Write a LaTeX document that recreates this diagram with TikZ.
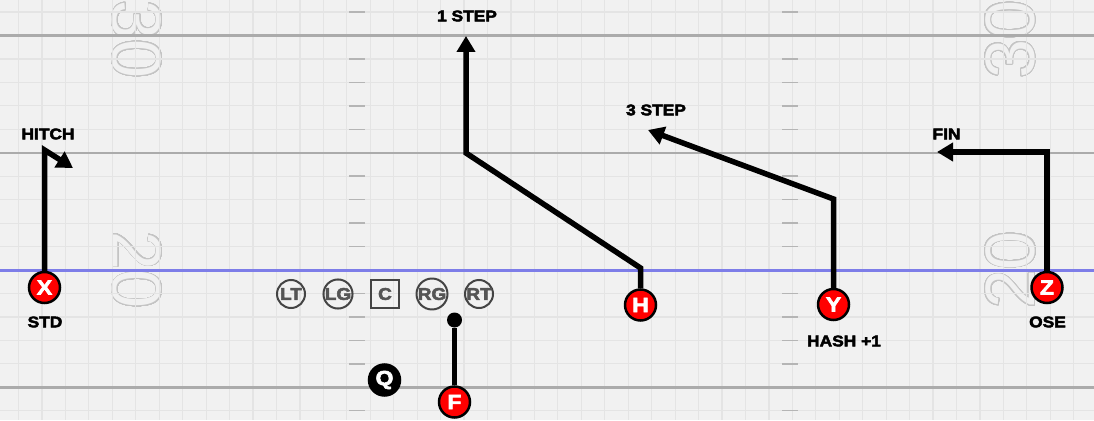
\documentclass[tikz,border=0pt]{standalone}
\usepackage{fontspec}
\usepackage{contour}
\usetikzlibrary{arrows.meta}
\setmainfont{Liberation Sans}
\newfontfamily\heavy{Liberation Sans}[BoldFeatures={FakeBold=3,FakeStretch=1.12}]
\newfontfamily\numfont{Liberation Sans}
\contournumber{48}
\contourlength{0.8pt}

\definecolor{turf}{HTML}{F1F1F1}
\definecolor{gridc}{HTML}{E4E4E4}
\definecolor{yardc}{HTML}{ABABAB}
\definecolor{hashc}{HTML}{B5B5B5}
\definecolor{losc}{HTML}{7D7DE8}
\definecolor{numc}{HTML}{C4C4C4}
\definecolor{olc}{HTML}{444444}
\definecolor{oltext}{HTML}{555555}
\definecolor{playred}{HTML}{FF0000}

\tikzset{
  gridline/.style={draw=gridc, line width=1.2pt},
  yardline/.style={draw=yardc, line width=2.5pt},
  hashmark/.style={draw=hashc, line width=1.5pt},
  scrimmage/.style={draw=losc, line width=3pt},
  yardnum/.style={font=\numfont\fontsize{70}{70}\selectfont, text=turf, inner sep=0pt},
  player/.style={circle, draw=black, line width=2.5pt, fill=playred, minimum size=31pt,
    inner sep=0pt, text=white, font=\heavy\bfseries\fontsize{20.5}{20.5}\selectfont},
  passer/.style={player, fill=black},
  lineman/.style={circle, draw=olc, line width=2pt, minimum size=28pt, inner sep=0pt,
    text=oltext, font=\heavy\bfseries\fontsize{17}{17}\selectfont},
  snapper/.style={lineman, rectangle},
  route/.style={draw=black, line width=5.5pt},
  arrowroute/.style={route, -{Triangle[length=16pt,width=18pt]}},
  blockdot/.style={circle, fill=black, minimum size=15pt, inner sep=0pt},
  routelabel/.style={font=\heavy\bfseries\fontsize{15.5}{15.5}\selectfont, inner sep=0pt}
}

\begin{document}
\begin{tikzpicture}[x=1pt, y=-1pt]
  \useasboundingbox (0,0) rectangle (1094,420);
  \clip (0,0) rectangle (1094,420);
  \fill[turf] (0,0) rectangle (1094,420);

  % yard numbers
  \node[yardnum, rotate=-90] (num30l) at (136.5,39.5) {\contour{numc}{30}};
  \node[yardnum, rotate=-90] (num20l) at (136.5,270) {\contour{numc}{20}};
  \node[yardnum, rotate=90] (num30r) at (1010.5,39.5) {\contour{numc}{30}};
  \node[yardnum, rotate=90] (num20r) at (1011,270) {\contour{numc}{20}};

  % one-yard grid
  \foreach \i in {0,...,45}
    \draw[gridline] ({18.5+23.45*\i},0) -- ++(0,420);
  \foreach \k in {-6,...,11}
    \draw[gridline] (0,{270-23.45*\k}) -- ++(1094,0);

  % five-yard lines
  \foreach \k in {10,5,-5}
    \draw[yardline] (0,{270-23.45*\k}) -- ++(1094,0);

  % hash marks
  \foreach \k in {11,9,8,7,6,4,3,2,1,-1,-2,-3,-4,-6} {
    \draw[hashmark] (349,{270-23.45*\k}) -- ++(16,0);
    \draw[hashmark] (782,{270-23.45*\k}) -- ++(16,0);
  }

  % line of scrimmage
  \draw[scrimmage] (0,270) -- (1094,270);

  % offensive line
  \node[lineman] (LT) at (291,294) {LT};
  \node[lineman] (LG) at (338,294) {LG};
  \node[snapper] (C) at (385,294) {C};
  \node[lineman] (RG) at (432,294) {RG};
  \node[lineman] (RT) at (479,294) {RT};

  % skill players
  \node[player] (X) at (44.5,287.5) {X};
  \node[player] (H) at (640.5,305) {H};
  \node[player] (Y) at (833.5,304.5) {Y};
  \node[player] (Z) at (1047,287.5) {Z};
  \node[player] (F) at (454.5,402) {F};
  \node[passer] (Q) at (384.5,380) {Q};
  \node[blockdot] (Fblock) at (454.5,320) {};

  % route waypoints
  \coordinate (xb) at (44.5,150);
  \coordinate (xe) at (73,168);
  \coordinate (hb1) at (640.5,268);
  \coordinate (hb2) at (466,153);
  \coordinate (he) at (466,36);
  \coordinate (yb) at (833.5,199);
  \coordinate (ye) at (648,130);
  \coordinate (zb) at (1047,152);
  \coordinate (ze) at (937,152);

  % routes
  \draw[arrowroute] (X) -- (xb) -- (xe);
  \draw[arrowroute] (H) -- (hb1) -- (hb2) -- (he);
  \draw[arrowroute] (Y) -- (yb) -- (ye);
  \draw[arrowroute] (Z) -- (zb) -- (ze);
  \draw[route] (F) -- (Fblock);

  % labels
  \node[routelabel] (lhitch) at (48,134) {HITCH};
  \node[routelabel] (lstd) at (45,322) {STD};
  \node[routelabel] (lone) at (467,16) {1 STEP};
  \node[routelabel] (lthree) at (656,110) {3 STEP};
  \node[routelabel] (lhash) at (844,341) {HASH +1};
  \node[routelabel] (lfin) at (946.5,134) {FIN};
  \node[routelabel] (lose) at (1047.5,322) {OSE};
\end{tikzpicture}
\end{document}
